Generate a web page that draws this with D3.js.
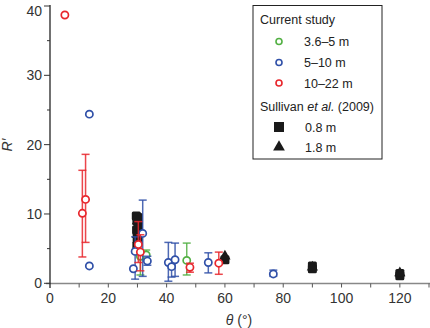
<!DOCTYPE html>
<html>
<head>
<meta charset="utf-8">
<script src="https://cdn.jsdelivr.net/npm/d3@7"></script>
<style>
  body { margin: 0; background: #fff; }
  svg { font-family: "Liberation Sans", Arial, sans-serif; }
</style>
</head>
<body>
<svg width="430" height="328"></svg>
<script>
// [theta, R', low, high] ; null = no error bar
var green = [
  [31.0, 3.9, 1.2, 4.6],
  [33.0, 4.1, 3.4, 4.8],
  [46.9, 3.3, 1.2, 5.8]
];
var blue = [
  [13.5, 24.4, null, null],
  [13.5, 2.5, null, null],
  [28.6, 2.1, null, null],
  [29.2, 4.6, 0.6, 6.7],
  [31.8, 7.2, 1.0, 12.0],
  [33.4, 3.2, 2.6, 3.9],
  [40.6, 3.0, 0.3, 5.9],
  [41.7, 2.4, 0.9, 3.4],
  [42.9, 3.4, 1.0, 5.8],
  [54.3, 3.0, 1.5, 4.4],
  [76.6, 1.35, 1.0, 1.9]
];
var red = [
  [5.1, 38.7, null, null],
  [11.1, 10.1, 3.8, 16.3],
  [12.2, 12.1, 5.9, 18.6],
  [30.3, 5.6, 3.0, 8.9],
  [31.0, 4.5, 1.8, 7.0],
  [48.0, 2.3, 1.6, 2.9],
  [57.9, 2.9, 1.3, 4.5]
];
// Sullivan et al. (2009)
var sqTheta = [29.6, 30.2, 29.8, 30.3, 29.7, 30.1, 29.9, 30.2, 29.8, 60, 90, 90, 120, 120];
var sqR     = [9.7, 9.5, 9.0, 8.3, 7.7, 7.1, 6.6, 6.0, 5.5, 3.4, 2.5, 2.1, 1.4, 1.1];
var triTheta = [30, 30, 60, 90, 120];
var triR     = [9.0, 7.0, 3.9, 2.3, 1.5];

var xTicks = [0, 20, 40, 60, 80, 100, 120];
var yTicks = [0, 10, 20, 30, 40];

var svg = d3.select('svg');

var x = d3.scaleLinear().domain([0, 130]).range([50, 429]);
var y = d3.scaleLinear().domain([0, 40]).range([283.3, 6]);

// x axis (grey)
var xg = svg.append('g').attr('transform', 'translate(0,283.5)');
xg.append('line').attr('x1', 46).attr('x2', 430).attr('stroke', '#888').attr('stroke-width', 1.6);
xg.selectAll('.mt').data(d3.range(10, 131, 10)).enter().append('line')
  .attr('x1', function(d) { return x(d); }).attr('x2', function(d) { return x(d); })
  .attr('y1', 0).attr('y2', 4).attr('stroke', '#555').attr('stroke-width', 1);
xg.selectAll('text').data(xTicks).enter().append('text')
  .attr('x', function(d) { return x(d); }).attr('y', 19)
  .attr('text-anchor', 'middle').attr('font-size', 14).attr('fill', '#333')
  .text(function(d) { return d; });

// y axis (black)
var yg = svg.append('g').attr('transform', 'translate(50,0)');
yg.append('line').attr('y1', 5).attr('y2', 288).attr('stroke', '#111').attr('stroke-width', 1.2);
yg.selectAll('.mt').data(d3.range(0, 41, 5)).enter().append('line')
  .attr('y1', function(d) { return y(d); }).attr('y2', function(d) { return y(d); })
  .attr('x1', function(d) { return d % 10 == 0 ? -6 : -3; }).attr('x2', 0)
  .attr('stroke', '#333').attr('stroke-width', 1);
yg.selectAll('text').data(yTicks).enter().append('text')
  .attr('x', -8).attr('y', function(d) { return Math.max(y(d) + 5, 16); })
  .attr('text-anchor', 'end').attr('font-size', 14).attr('fill', '#333')
  .text(function(d) { return d; });

// axis titles
svg.append('text').attr('x', 239).attr('y', 325).attr('text-anchor', 'middle')
  .attr('font-size', 14).attr('fill', '#333')
  .html('<tspan font-style="italic">θ</tspan> (°)');
svg.append('text').attr('transform', 'translate(12,145) rotate(-90)').attr('text-anchor', 'middle')
  .attr('font-size', 14).attr('fill', '#333').attr('font-style', 'italic')
  .text('R′');

// Sullivan markers
var sym = d3.symbol();
svg.selectAll('.sq').data(sqTheta).enter().append('rect')
  .attr('x', function(d) { return x(d) - 4.5; })
  .attr('y', function(d, i) { return y(sqR[i]) - 4.5; })
  .attr('width', 9).attr('height', 9).attr('rx', 1.5).attr('fill', '#1a1a1a');
svg.selectAll('.tri').data(triTheta).enter().append('path')
  .attr('d', sym.type(d3.symbolTriangle).size(55)())
  .attr('transform', function(d, i) { return 'translate(' + x(d) + ',' + y(triR[i]) + ')'; })
  .attr('fill', '#1a1a1a');

// current study series
function drawSeries(data, col) {
  var g = svg.append('g');
  var eb = data.filter(function(d) { return d[2] != null; });
  g.selectAll('.bar').data(eb).enter().append('line')
    .attr('x1', function(d) { return x(d[0]); }).attr('x2', function(d) { return x(d[0]); })
    .attr('y1', function(d) { return y(d[2]); }).attr('y2', function(d) { return y(d[3]); })
    .attr('stroke', col).attr('stroke-width', 1.5).attr('opacity', 0.85);
  [2, 3].forEach(function(k) {
    g.selectAll('.cap' + k).data(eb).enter().append('line')
      .attr('x1', function(d) { return x(d[0]) - 4; }).attr('x2', function(d) { return x(d[0]) + 4; })
      .attr('y1', function(d) { return y(d[k]); }).attr('y2', function(d) { return y(d[k]); })
      .attr('stroke', col).attr('stroke-width', 1.5).attr('opacity', 0.85);
  });
  g.selectAll('circle').data(data).enter().append('circle')
    .attr('cx', function(d) { return x(d[0]); }).attr('cy', function(d) { return y(d[1]); })
    .attr('r', 3.6).attr('fill', '#fff').attr('stroke', col).attr('stroke-width', 1.7);
}
drawSeries(green, '#52b043');
drawSeries(blue, '#3050a8');
drawSeries(red, '#e8262c');

// legend
var lg = svg.append('g');
lg.append('rect').attr('x', 253).attr('y', 5.5).attr('width', 129).attr('height', 153.5)
  .attr('fill', '#fff').attr('stroke', '#222').attr('stroke-width', 1);
lg.append('text').attr('x', 260).attr('y', 24).attr('font-size', 12.5).attr('fill', '#222').text('Current study');
var legItems = [['3.6–5 m', '#52b043', 41.5], ['5–10 m', '#3050a8', 62.5], ['10–22 m', '#e8262c', 83]];
legItems.forEach(function(it) {
  lg.append('circle').attr('cx', 279).attr('cy', it[2]).attr('r', 3).attr('fill', '#fff')
    .attr('stroke', it[1]).attr('stroke-width', 1.6);
  lg.append('text').attr('x', 304).attr('y', it[2] + 4.5).attr('font-size', 12.5).attr('fill', '#222').text(it[0]);
});
lg.append('text').attr('x', 260).attr('y', 111).attr('font-size', 12.5).attr('fill', '#222')
  .html('Sullivan <tspan font-style="italic">et al.</tspan> (2009)');
lg.append('rect').attr('x', 274).attr('y', 122).attr('width', 10).attr('height', 10).attr('fill', '#1a1a1a');
lg.append('text').attr('x', 305).attr('y', 131.5).attr('font-size', 12.5).attr('fill', '#222').text('0.8 m');
lg.append('path').attr('d', sym.type(d3.symbolTriangle).size(60)())
  .attr('transform', 'translate(279,147)').attr('fill', '#1a1a1a');
lg.append('text').attr('x', 305).attr('y', 151.5).attr('font-size', 12.5).attr('fill', '#222').text('1.8 m');
</script>
</body>
</html>
